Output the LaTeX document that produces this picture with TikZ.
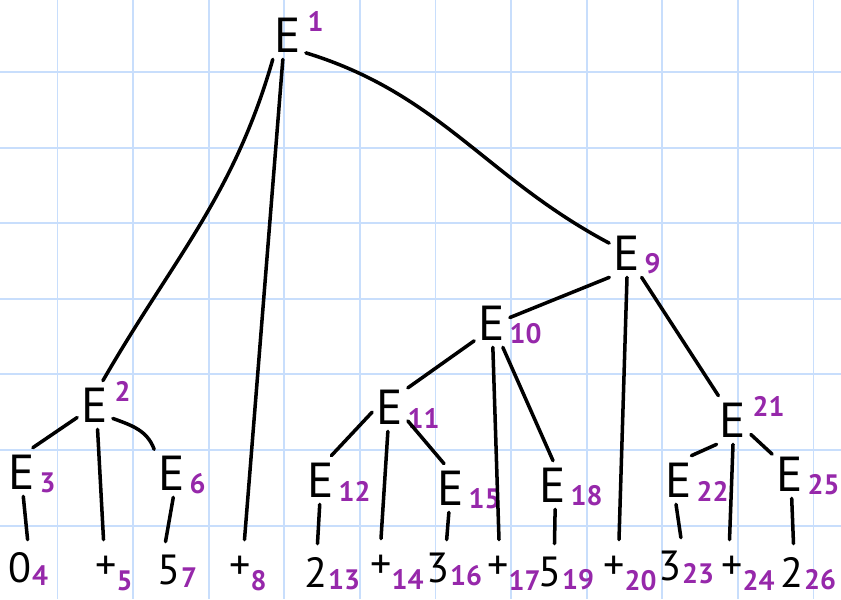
\documentclass[tikz,border=0pt]{standalone}
\usepackage{fontspec}
\setmainfont{PT Sans}
\definecolor{gridblue}{RGB}{200,222,252}
\definecolor{idxpurple}{RGB}{150,40,170}

\begin{document}
\begin{tikzpicture}[
    x=0.02cm, y=0.02cm,
    nt/.style={rectangle, inner sep=0pt, minimum width=0.7cm, minimum height=0.96cm, font=\fontsize{28}{28}\selectfont},
    lf/.style={rectangle, inner sep=0pt, minimum width=0.5cm, minimum height=1.12cm, font=\fontsize{24}{24}\selectfont},
    idx/.style={inner sep=0pt, text=idxpurple, font=\bfseries\fontsize{16}{16}\selectfont},
    subidx/.style={label={[idx, label distance=0pt, xshift=-0.01cm, yshift=-0.22cm]0:#1}},
    supidx/.style={label={[idx, label distance=0pt, xshift=0.03cm, yshift=0.28cm]0:#1}},
    leafidx/.style={label={[idx, label distance=0pt, xshift=-0.02cm, yshift=-0.16cm]0:#1}},
    plusidx/.style={label={[idx, label distance=0pt, xshift=-0.05cm, yshift=-0.25cm]0:#1}},
    branch/.style={line width=2pt, line cap=round}
  ]

  % paper
  \fill[white] (0,0) rectangle (841,-599);
  \useasboundingbox (0,0) rectangle (841,-599);
  \foreach \i in {0,...,10}
    \draw[gridblue, line width=1.1pt] (57.5+75.6*\i,0) -- (57.5+75.6*\i,-599);
  \foreach \j in {0,...,6}
    \draw[gridblue, line width=1.1pt] (0,-72-75.6*\j) -- (841,-72-75.6*\j);

  % inner nodes
  \node[nt, supidx=1] (e1) at (288,-35) {E};
  \node[nt, supidx=2] (e2) at (95,-405) {E};
  \node[nt, subidx=3] (e3) at (22,-472) {E};
  \node[nt, subidx=6] (e6) at (172,-473) {E};
  \node[nt, subidx=9] (e9) at (627,-253) {E};
  \node[nt, subidx=10] (e10) at (492,-323) {E};
  \node[nt, subidx=11] (e11) at (390,-407) {E};
  \node[nt, subidx=12] (e12) at (321,-480) {E};
  \node[nt, subidx=15] (e15) at (451,-488) {E};
  \node[nt, subidx=18] (e18) at (553,-485) {E};
  \node[nt, supidx=21] (e21) at (733,-420) {E};
  \node[nt, subidx=22] (e22) at (679,-480) {E};
  \node[nt, subidx=25] (e25) at (790,-474) {E};

  % leaves
  \node[lf, leafidx=4] (l4) at (20,-568) {0};
  \node[lf, plusidx=5] (l5) at (106,-568) {+};
  \node[lf, leafidx=7] (l7) at (169,-570) {5};
  \node[lf, plusidx=8] (l8) at (240,-568) {+};
  \node[lf, leafidx=13] (l13) at (316,-572) {2};
  \node[lf, plusidx=14] (l14) at (381,-567) {+};
  \node[lf, leafidx=16] (l16) at (438,-568) {3};
  \node[lf, plusidx=17] (l17) at (498,-568) {+};
  \node[lf, leafidx=19] (l19) at (550,-572) {5};
  \node[lf, plusidx=20] (l20) at (614,-568) {+};
  \node[lf, leafidx=23] (l23) at (670,-566) {3};
  \node[lf, plusidx=24] (l24) at (732,-568) {+};
  \node[lf, leafidx=26] (l26) at (792,-572) {2};

  % top
  \draw[branch] (e1.-122) to[out=-106, in=60] (e2.72);
  \draw[branch] (e1.-102) -- (l8.81);
  \draw[branch] (e1.-45) to[out=-17, in=152] (e9.151);

  % E9
  \draw[branch] (e9.-126) -- (e10.17);
  \draw[branch] (e9.-90) -- (l20.80);
  \draw[branch] (e9.-59) -- (e21.121);

  % E10
  \draw[branch] (e10.-135) -- (e11.47);
  \draw[branch] (e10.-88) -- (l17.88);
  \draw[branch] (e10.-66) -- (e18.90);

  % E2
  \draw[branch] (e2.-145) -- (e3.66);
  \draw[branch] (e2.-84) -- (l5.95);
  \draw[branch] (e2.-37) to[out=-20, in=110] (e6.127);

  % E11
  \draw[branch] (e11.-164) -- (e12.67);
  \draw[branch] (e11.-95) -- (l14.90);
  \draw[branch] (e11.-38) -- (e15.106);

  % E21
  \draw[branch] (e21.-124) -- (e22.63);
  \draw[branch] (e21.-90) -- (l24.95);
  \draw[branch] (e21.-39) -- (e25.132);

  % leaves
  \draw[branch] (e3.-87) -- (l4.75);
  \draw[branch] (e6.-87) -- (l7.97);
  \draw[branch] (e12.-93) -- (l13.87);
  \draw[branch] (e15.-95) -- (l16.73);
  \draw[branch] (e18.-85) -- (l19.81);
  \draw[branch] (e22.-97) -- (l23.69);
  \draw[branch] (e25.-86) -- (l26.87);
\end{tikzpicture}
\end{document}
